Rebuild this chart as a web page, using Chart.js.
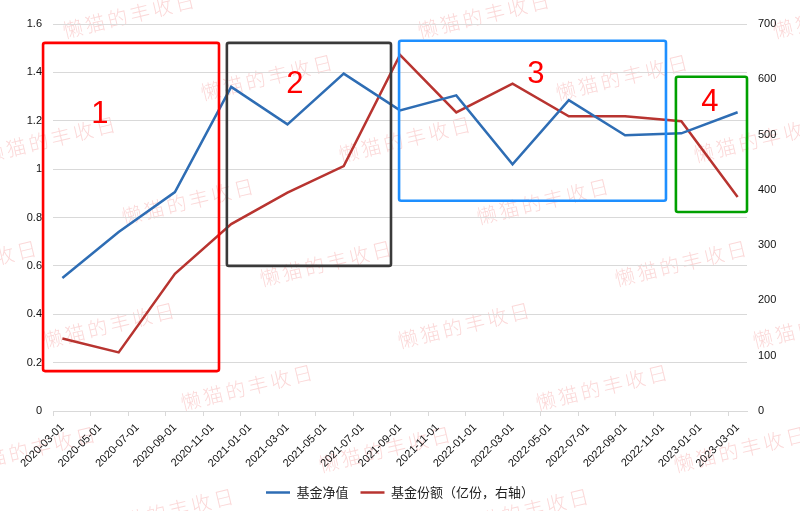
<html>
<head>
  <meta charset="utf-8">
  <title>基金净值与份额</title>
  <script src="https://cdn.jsdelivr.net/npm/chart.js@4.4.1/dist/chart.umd.min.js"></script>
  <style>
    body { margin: 0; background: #fff; }
    #wrap { width: 800px; height: 511px; }
  </style>
</head>
<body>
<div id="wrap"><canvas id="myChart" width="800" height="511"></canvas></div>
<script type="text/javascript">
// monthly category slots on the x axis (labels shown every 2 months)
var months = [
  '2020-03-01','2020-04-01','2020-05-01','2020-06-01','2020-07-01','2020-08-01',
  '2020-09-01','2020-10-01','2020-11-01','2020-12-01','2021-01-01','2021-02-01',
  '2021-03-01','2021-04-01','2021-05-01','2021-06-01','2021-07-01','2021-08-01',
  '2021-09-01','2021-10-01','2021-11-01','2021-12-01','2022-01-01','2022-02-01',
  '2022-03-01','2022-04-01','2022-05-01','2022-06-01','2022-07-01','2022-08-01',
  '2022-09-01','2022-10-01','2022-11-01','2022-12-01','2023-01-01','2023-02-01',
  '2023-03-01'
];
// quarterly observations
var quarters = [
  '2020-03-01','2020-06-01','2020-09-01','2020-12-01','2021-03-01','2021-06-01',
  '2021-09-01','2021-12-01','2022-03-01','2022-06-01','2022-09-01','2022-12-01',
  '2023-03-01'
];
var navValues = [0.55, 0.74, 0.905, 1.34, 1.185, 1.395, 1.243, 1.305, 1.02, 1.285, 1.14, 1.148, 1.235];
var shareValues = [131, 106, 248, 338, 395, 443, 644, 540, 592, 533, 533, 524, 387];

var leftTicks = [0, 0.2, 0.4, 0.6, 0.8, 1, 1.2, 1.4, 1.6];
var rightTicks = [0, 100, 200, 300, 400, 500, 600, 700];

// highlighted phases: x in month-slot units, y in left-axis units
var phases = [
  {label: '1', x0: -1.03, x1: 8.35, y0: 0.165, y1: 1.522, color: '#ff0000', tx: 2.0, ty: 1.226},
  {label: '2', x0: 8.77, x1: 17.52, y0: 0.6, y1: 1.522, color: '#3a3a3a', tx: 12.4, ty: 1.35},
  {label: '3', x0: 17.95, x1: 32.18, y0: 0.869, y1: 1.531, color: '#1e8fff', tx: 25.25, ty: 1.39},
  {label: '4', x0: 32.71, x1: 36.5, y0: 0.823, y1: 1.382, color: '#00a000', tx: 34.52, ty: 1.275}
];

var watermark = '懒猫的丰收日';

function toPoints(values){
  var pts = [];
  for (var i = 0; i < quarters.length; ++i){
    pts.push({x: quarters[i], y: values[i]});
  }
  return pts;
}

var watermarkPlugin = {
  id: 'watermark',
  beforeDraw: function(chart){
    var ctx = chart.ctx;
    ctx.save();
    ctx.font = '300 20px "Noto Sans CJK SC"';
    ctx.letterSpacing = '3px';
    ctx.fillStyle = 'rgba(240,90,90,0.24)';
    ctx.textAlign = 'center';
    ctx.textBaseline = 'middle';
    for (var j = 0; j <= 8; ++j){
      for (var i = -4; i <= 3; ++i){
        var cx = 130 + 138 * j + 355 * i;
        var cy = 15 + 62 * j;
        if (cx < -100 || cx > 900) continue;
        ctx.save();
        ctx.translate(cx, cy);
        ctx.rotate(-13.5 * Math.PI / 180);
        ctx.fillText(watermark, 0, 0);
        ctx.restore();
      }
    }
    ctx.restore();
  }
};

var phasePlugin = {
  id: 'phases',
  afterDatasetsDraw: function(chart){
    var ctx = chart.ctx;
    var xs = chart.scales.x, ys = chart.scales.y;
    ctx.save();
    phases.forEach(function(p){
      var l = xs.getPixelForValue(p.x0), r = xs.getPixelForValue(p.x1);
      var t = ys.getPixelForValue(p.y1), b = ys.getPixelForValue(p.y0);
      ctx.strokeStyle = p.color;
      ctx.lineWidth = 2.6;
      ctx.lineJoin = 'round';
      ctx.beginPath();
      ctx.roundRect(l, t, r - l, b - t, 2);
      ctx.stroke();
      ctx.fillStyle = '#ff0000';
      ctx.font = '31px "Liberation Sans"';
      ctx.textAlign = 'center';
      ctx.textBaseline = 'middle';
      ctx.fillText(p.label, xs.getPixelForValue(p.tx), ys.getPixelForValue(p.ty));
    });
    ctx.restore();
  }
};

var tickFont = {family: '"Liberation Sans"', size: 11};

var ctx = document.getElementById('myChart').getContext('2d');
var myChart = new Chart(ctx, {
  type: 'line',
  data: {
    labels: months,
    datasets: [{
      label: '基金净值',
      data: toPoints(navValues),
      borderColor: '#2e6db4',
      backgroundColor: '#2e6db4',
      borderWidth: 2.5,
      pointRadius: 0,
      tension: 0,
      spanGaps: true,
      yAxisID: 'y'
    }, {
      label: '基金份额（亿份，右轴）',
      data: toPoints(shareValues),
      borderColor: '#b83430',
      backgroundColor: '#b83430',
      borderWidth: 2.5,
      pointRadius: 0,
      tension: 0,
      spanGaps: true,
      yAxisID: 'y1'
    }]
  },
  options: {
    responsive: false,
    animation: false,
    devicePixelRatio: 1,
    layout: {padding: {top: 24, left: 0, right: 0, bottom: 2}},
    plugins: {
      tooltip: {enabled: false},
      legend: {
        position: 'bottom',
        labels: {
          usePointStyle: true,
          pointStyle: 'line',
          pointStyleWidth: 24,
          padding: 12,
          color: '#222',
          font: {family: '"Noto Sans CJK SC"', size: 13}
        }
      }
    },
    scales: {
      x: {
        type: 'category',
        offset: true,
        grid: {
          offset: true,
          drawOnChartArea: false,
          tickLength: 5,
          color: function(c){ return c.index % 2 === 0 ? '#d9d9d9' : 'rgba(0,0,0,0)'; }
        },
        border: {display: true, color: '#d9d9d9'},
        ticks: {
          autoSkip: false,
          minRotation: 45,
          maxRotation: 45,
          padding: 5,
          color: '#111',
          font: tickFont,
          callback: function(v, i){ return i % 2 === 0 ? months[i] : ''; }
        },
        afterFit: function(s){ s.height = 63; }
      },
      y: {
        position: 'left',
        min: 0,
        max: 1.6,
        afterBuildTicks: function(s){ s.ticks = leftTicks.map(function(v){ return {value: v}; }); },
        grid: {color: '#d9d9d9', drawTicks: false},
        border: {display: false},
        ticks: {
          padding: 11,
          color: '#111',
          font: tickFont,
          callback: function(v){ return String(+v.toFixed(1)); }
        },
        afterFit: function(s){ s.width = 53; }
      },
      y1: {
        position: 'right',
        min: 0,
        max: 700,
        afterBuildTicks: function(s){ s.ticks = rightTicks.map(function(v){ return {value: v}; }); },
        grid: {drawOnChartArea: false, drawTicks: false},
        border: {display: false},
        ticks: {
          padding: 11,
          color: '#111',
          font: tickFont
        },
        afterFit: function(s){ s.width = 53; }
      }
    }
  },
  plugins: [watermarkPlugin, phasePlugin]
});
</script>
</body>
</html>
